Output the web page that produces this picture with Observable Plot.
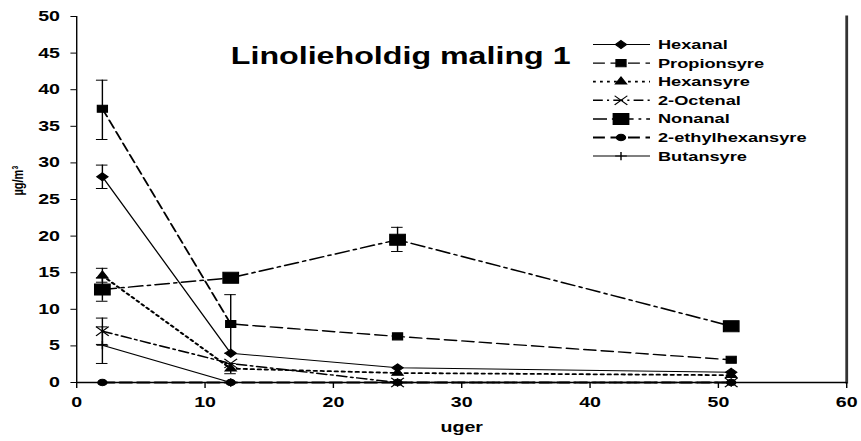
<!DOCTYPE html>
<html>
<head>
<meta charset="utf-8">
<script src="https://cdn.jsdelivr.net/npm/d3@7"></script>
<script src="https://cdn.jsdelivr.net/npm/@observablehq/plot@0.6"></script>
<style>
  html, body { margin: 0; padding: 0; background: #fff; }
  #chart { width: 861px; height: 441px; }
</style>
</head>
<body>
<div id="chart"></div>
<script>
// ---- data ----
const weeks = [2, 12, 25, 51];
const seriesNames = ["Hexanal", "Propionsyre", "Hexansyre", "2-Octenal", "Nonanal", "2-ethylhexansyre", "Butansyre"];
const hexanal        = [28.1, 4.0, 2.0, 1.4];
const propionsyre    = [37.4, 8.0, 6.3, 3.1];
const hexansyre      = [14.6, 1.9, 1.3, 1.0];
const octenal        = [7.0, 2.6, 0, 0];
const nonanal        = [12.7, 14.3, 19.5, 7.7];
const ethylhexansyre = [0, 0, 0, 0];
const butansyre      = [5.1, 0, 0, 0];
const seriesValues = [hexanal, propionsyre, hexansyre, octenal, nonanal, ethylhexansyre, butansyre];

// error bars
const errSeries = ["Propionsyre", "Hexanal", "Hexansyre", "Nonanal", "2-Octenal", "Butansyre", "Propionsyre", "Hexansyre", "Nonanal"];
const errWeek   = [2, 2, 2, 2, 2, 2, 12, 12, 25];
const errLow    = [33.2, 26.5, 13.7, 11.1, 5.2, 2.6, 4.0, 1.2, 17.9];
const errHigh   = [41.3, 29.7, 15.6, 14.3, 8.8, 7.6, 12.0, 2.6, 21.2];

const xTicks = [0, 10, 20, 30, 40, 50, 60];
const yTicks = [0, 5, 10, 15, 20, 25, 30, 35, 40, 45, 50];

// ---- styles (per series) ----
const styles = [
  {symbol: "diamond2", r: 3.6, fill: "black", width: 1,   dash: null},
  {symbol: "square2",  r: 4.5, fill: "black", width: 1.4, dash: "8.5,4"},
  {symbol: "triangle2",r: 3.8, fill: "black", width: 1.8, dash: "2,3"},
  {symbol: "times",    r: 4.2, fill: "none",  width: 1.5, dash: "7,3,1.5,3"},
  {symbol: "square2",  r: 7,   fill: "black", width: 1.5, dash: "10,3.5,2,3.5"},
  {symbol: "circle",   r: 3.2, fill: "black", width: 2,   dash: "8.5,4"},
  {symbol: "plus",     r: 2.8, fill: "none",  width: 1,   dash: null}
];

const SX = 1.4;           // horizontal stretch of the original picture
const W = 861 / SX, H = 441;

const rowsBySeries = seriesNames.map((name, i) =>
  weeks.map((w, j) => ({series: name, week: w, value: seriesValues[i][j]})));
const errRows = errSeries.map((s, i) => ({series: s, week: errWeek[i], lo: errLow[i], hi: errHigh[i]}));

const font = "'Liberation Sans', Arial, Helvetica, sans-serif";

const marks = [
  Plot.frame({anchor: "left", stroke: "black"}),
  Plot.frame({anchor: "right", stroke: "#333", strokeWidth: 2}),
  Plot.axisX({ticks: xTicks, tickSize: 6, tickPadding: 9, fontSize: 14, fontWeight: "bold", label: null}),
  Plot.axisY({ticks: yTicks, tickSize: 4, tickPadding: 8, fontSize: 14, fontWeight: "bold", label: null}),
  Plot.ruleY([0], {stroke: "black", strokeWidth: 1.5}),
  // error bars
  Plot.ruleX(errRows, {x: "week", y1: "lo", y2: "hi", stroke: "black", strokeWidth: 1}),
  Plot.ruleY(errRows, {y: "lo", x1: d => d.week - 0.45, x2: d => d.week + 0.45, stroke: "black", strokeWidth: 1}),
  Plot.ruleY(errRows, {y: "hi", x1: d => d.week - 0.45, x2: d => d.week + 0.45, stroke: "black", strokeWidth: 1})
];
rowsBySeries.forEach((rows, i) => {
  const s = styles[i];
  marks.push(Plot.line(rows, {x: "week", y: "value", stroke: "black", strokeWidth: s.width, strokeDasharray: s.dash || undefined}));
});
rowsBySeries.forEach((rows, i) => {
  const s = styles[i];
  marks.push(Plot.dot(rows, {x: "week", y: "value", symbol: s.symbol, r: s.r, fill: s.fill, stroke: "black", strokeWidth: 1}));
});
marks.push(
  Plot.text(["Linolieholdig maling 1"], {frameAnchor: "top", dx: -43.6, dy: 31, fontSize: 23, fontWeight: "bold", fill: "black"}),
  Plot.text(["uger"], {frameAnchor: "bottom", dy: 49, fontSize: 14, fontWeight: "bold", fill: "black"}),
  Plot.text(["µg/m³"], {frameAnchor: "left", dx: -42, dy: -4, rotate: -90, fontSize: 11, fontWeight: "bold", fill: "black"})
);

const svg = Plot.plot({
  width: W, height: H,
  marginLeft: 54.3, marginRight: 10.7, marginTop: 16, marginBottom: 59,
  x: {domain: [0, 60]},
  y: {domain: [0, 50]},
  style: {fontFamily: font, color: "black", background: "white"},
  marks
});

// legend (in the same coordinate system as the plot)
const sel = d3.select(svg);
const lg = sel.append("g").attr("font-family", font).attr("font-size", 13).attr("font-weight", "bold")
  .attr("text-anchor", "start");
const lx1 = 593 / SX, lx2 = 650 / SX, lmx = 621 / SX, ltx = 658 / SX;
seriesNames.forEach((name, i) => {
  const s = styles[i];
  const y = 44.5 + i * 18.6;
  lg.append("line").attr("x1", lx1).attr("x2", lx2).attr("y1", y).attr("y2", y)
    .attr("stroke", "black").attr("stroke-width", s.width)
    .attr("stroke-dasharray", s.dash || null);
  const symType = {diamond2: d3.symbolDiamond2, square2: d3.symbolSquare2, triangle2: d3.symbolTriangle2,
                   times: d3.symbolTimes, circle: d3.symbolCircle, plus: d3.symbolPlus}[s.symbol];
  lg.append("path").attr("transform", `translate(${lmx},${y})`)
    .attr("d", d3.symbol(symType, Math.PI * s.r * s.r)())
    .attr("fill", s.fill).attr("stroke", "black").attr("stroke-width", 1);
  lg.append("text").attr("x", ltx).attr("y", y).attr("dy", "0.35em").attr("fill", "black")
    .attr("text-anchor", "start").text(name);
});

// stretch horizontally like the original picture
svg.setAttribute("viewBox", `0 0 ${W} ${H}`);
svg.setAttribute("width", 861);
svg.setAttribute("height", 441);
svg.setAttribute("preserveAspectRatio", "none");
svg.style.width = "861px";
svg.style.height = "441px";
svg.style.maxWidth = "none";
document.getElementById("chart").appendChild(svg);
</script>
</body>
</html>
